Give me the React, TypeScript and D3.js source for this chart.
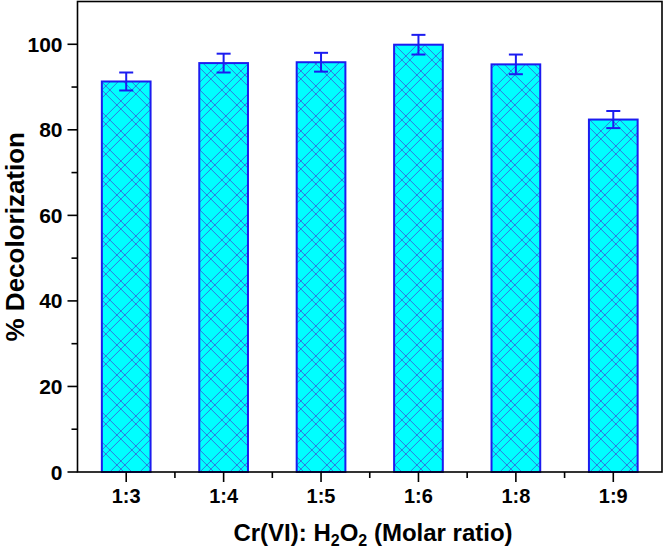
import React from "react";
import * as d3 from "d3";

const categories = ["1:3", "1:4", "1:5", "1:6", "1:8", "1:9"];
const values = [91.3, 95.6, 95.8, 99.9, 95.3, 82.4];
const errors = [2.1, 2.2, 2.2, 2.3, 2.3, 2.0];
const yMajorTicks = [0, 20, 40, 60, 80, 100];
const yMinorTicks = [10, 30, 50, 70, 90];

const W = 664;
const H = 553;
const left = 77.5;
const right = 662;
const top = 1.5;
const bottom = 472;

const P = 30;
const offsets = [0, 8];

export default function App() {
  const x = d3.scaleBand<string>().domain(categories).range([left, right]).paddingInner(0.5).paddingOuter(0.25);
  const y = d3.scaleLinear().domain([0, 110]).range([bottom, top]);
  const step = x.step();
  const minorX = d3.range(1, categories.length).map((i) => left + step * i);
  const blue = "#1c1cf0";
  const font = "'Liberation Sans', Arial, sans-serif";

  const hatchLines: JSX.Element[] = [];
  [-P, 0, P].forEach((s) =>
    offsets.forEach((o) => {
      hatchLines.push(<line key={`a${s}_${o}`} x1={s + o} y1={0} x2={s + o + P} y2={P} />);
      hatchLines.push(<line key={`b${s}_${o}`} x1={s + o + P} y1={0} x2={s + o} y2={P} />);
    })
  );

  return (
    <div style={{ position: "absolute", left: 0, top: 0 }}>
      <svg width={W} height={H} style={{ display: "block" }}>
        <defs>
          <pattern id="hatch" patternUnits="userSpaceOnUse" width={P} height={P} x={x(categories[0])} y={0}>
            <rect width={P} height={P} fill="#00ffff" />
            <g stroke="#3568da" strokeWidth={0.9}>
              {hatchLines}
            </g>
          </pattern>
        </defs>

        {categories.map((c, i) => (
          <rect
            key={c}
            x={x(c)!}
            y={y(values[i])}
            width={x.bandwidth()}
            height={bottom - y(values[i])}
            fill="url(#hatch)"
            stroke={blue}
            strokeWidth={2}
          />
        ))}

        {categories.map((c, i) => {
          const cx = x(c)! + x.bandwidth() / 2;
          const y1 = y(values[i] + errors[i]);
          const y2 = y(values[i] - errors[i]);
          return (
            <g key={"e" + c} stroke={blue} strokeWidth={2}>
              <line x1={cx} x2={cx} y1={y1} y2={y2} />
              <line x1={cx - 7} x2={cx + 7} y1={y1} y2={y1} />
              <line x1={cx - 7} x2={cx + 7} y1={y2} y2={y2} />
            </g>
          );
        })}

        <rect x={left} y={top} width={right - left} height={bottom - top} fill="none" stroke="#000" strokeWidth={1.6} />

        {yMajorTicks.map((t) => (
          <g key={"y" + t}>
            <line x1={left - 10} x2={left} y1={y(t)} y2={y(t)} stroke="#000" strokeWidth={1.6} />
            <text x={left - 15} y={y(t)} dy="0.36em" textAnchor="end" fontFamily={font} fontWeight="bold" fontSize={21}>
              {t}
            </text>
          </g>
        ))}
        {yMinorTicks.map((t) => (
          <line key={"ym" + t} x1={left - 6} x2={left} y1={y(t)} y2={y(t)} stroke="#000" strokeWidth={1.6} />
        ))}

        {categories.map((c) => {
          const cx = x(c)! + x.bandwidth() / 2;
          return (
            <g key={"x" + c}>
              <line x1={cx} x2={cx} y1={bottom} y2={bottom + 10} stroke="#000" strokeWidth={1.6} />
              <text x={cx} y={503} textAnchor="middle" fontFamily={font} fontWeight="bold" fontSize={20}>
                {c}
              </text>
            </g>
          );
        })}
        {minorX.map((mx, i) => (
          <line key={"xm" + i} x1={mx} x2={mx} y1={bottom} y2={bottom + 6} stroke="#000" strokeWidth={1.6} />
        ))}

        <text
          transform={`translate(24, ${(top + bottom) / 2}) rotate(-90)`}
          textAnchor="middle"
          fontFamily={font}
          fontWeight="bold"
          fontSize={26}
        >
          % Decolorization
        </text>
        <text x={373} y={541} textAnchor="middle" fontFamily={font} fontWeight="bold" fontSize={24}>
          Cr(VI): H<tspan fontSize={16} dy={5}>2</tspan>
          <tspan dy={-5}>O</tspan>
          <tspan fontSize={16} dy={5}>2</tspan>
          <tspan dy={-5}> (Molar ratio)</tspan>
        </text>
      </svg>
    </div>
  );
}
